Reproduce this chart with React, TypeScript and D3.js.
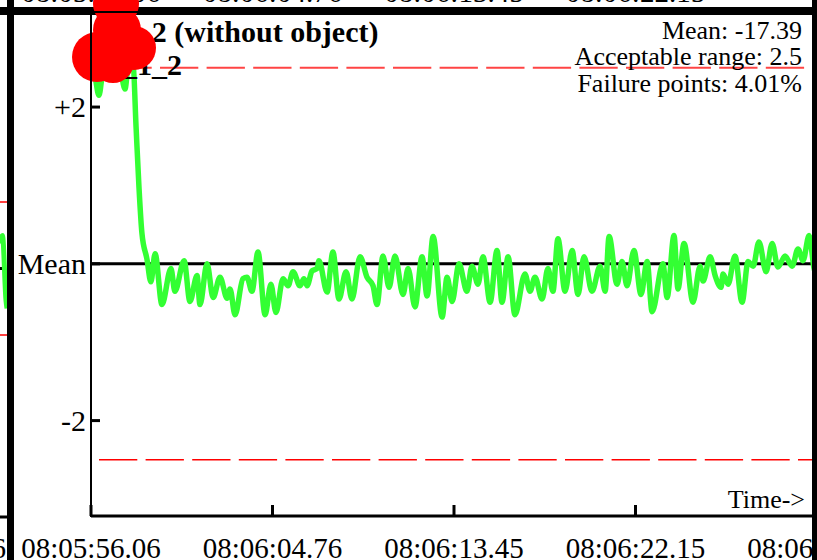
import React, { useEffect, useRef } from 'react';
import * as d3 from 'd3';

const W = 817;
const H = 560;
const FONT = '"Liberation Serif", "Times New Roman", serif';

// x ticks: seconds after 08:05:56.06
const tickTimes = [0, 8.695, 17.39, 26.085, 34.78];
const tickLabels = ['08:05:56.06', '08:06:04.76', '08:06:13.45', '08:06:22.15', '08:06:30.84'];
const yTicks = [2, 0, -2];
const yTickLabels = ['+2', 'Mean', '-2'];
const acceptRange = 2.5;
const statLines = ['Mean: -17.39', 'Acceptable range: 2.5', 'Failure points: 4.01%'];
const titleLines = ['Ch 2 (without object)', 'T_1_2'];

// deviation from the mean, per time (s)
const times = [
    0, 0.19, 0.38, 0.57, 0.91, 1.29, 1.63, 1.82, 2.01, 2.16,
    2.30, 2.44, 2.68, 2.87, 3.07, 3.40, 3.83, 4.02, 4.46, 4.74,
    5.08, 5.22, 5.56, 5.85, 6.18, 6.52, 6.66, 6.90, 7.28, 7.47,
    7.71, 8.00, 8.34, 8.62, 8.86, 9.20, 9.44, 9.68, 10.01, 10.20,
    10.35, 10.59, 10.83, 10.92, 11.31, 11.59, 11.88, 12.22, 12.50, 12.89,
    13.22, 13.51, 13.70, 13.99, 14.28, 14.56, 14.95, 15.19, 15.52, 15.86,
    16.10, 16.39, 16.82, 17.06, 17.30, 17.63, 18.01, 18.25, 18.54, 18.78,
    19.12, 19.45, 19.69, 19.98, 20.31, 20.79, 21.03, 21.27, 21.61, 21.89,
    22.13, 22.37, 22.71, 23.05, 23.33, 23.62, 24.00, 24.39, 24.63, 24.82,
    25.20, 25.44, 25.68, 26.01, 26.35, 26.64, 26.88, 27.40, 27.60, 27.93,
    28.12, 28.41, 28.84, 29.18, 29.32, 29.66, 29.90, 30.18, 30.28, 30.52,
    30.85, 31.19, 31.48, 31.72, 32.00, 32.34, 32.63, 32.91, 33.25, 33.59,
    33.87, 34.11, 34.40, 34.69, 34.78
];
const devs = [
    2.52, 2.39, 2.15, 2.45, 2.58, 2.65, 2.23, 2.62, 2.58, 1.74,
    0.97, 0.39, 0.06, -0.23, 0.13, -0.52, -0.06, -0.35, 0.04, -0.48,
    -0.15, -0.52, 0, -0.43, -0.17, -0.44, -0.32, -0.65, -0.19, -0.17,
    -0.35, 0.15, -0.65, -0.26, -0.62, -0.19, -0.28, -0.10, -0.28, -0.19,
    -0.28, -0.09, -0.06, 0.04, -0.36, 0.15, -0.45, -0.10, -0.45, 0.09,
    -0.17, -0.28, -0.52, 0.10, -0.30, 0.10, -0.39, -0.06, -0.55, 0.09,
    -0.41, 0.35, -0.68, -0.17, -0.48, 0, -0.35, -0.03, -0.26, 0.09,
    -0.49, 0.17, -0.49, 0.09, -0.65, -0.13, -0.35, -0.17, -0.45, -0.06,
    -0.35, 0.32, -0.35, 0.17, -0.39, 0.09, -0.35, -0.03, -0.35, 0.35,
    -0.26, 0.03, -0.28, 0.17, -0.39, 0.03, -0.61, 0, -0.43, 0.36,
    -0.32, 0.26, -0.49, -0.03, -0.22, 0.09, -0.15, -0.30, -0.13, -0.26,
    0.10, -0.49, 0.03, -0.03, 0.28, -0.10, 0.26, -0.04, 0.10, -0.03,
    0.19, 0.04, 0.36, -0.10, 0
];

// right edge of the neighbouring panel, cut off on the left
const prevTimes = [-0.7, -0.45, -0.1, 0];
const prevDevs = [0.94, 1.24, -1.2, -1.5];
const prevLabel = '08:05:47.36';

const App: React.FC = () => {
    const svgRef = useRef<SVGSVGElement>(null);

    useEffect(() => {
        if (!svgRef.current) return;
        const svg = d3.select(svgRef.current);
        svg.selectAll('*').remove();

        const x = d3.scaleLinear().domain([0, 34.78]).range([91, 817]);
        const y = d3.scaleLinear().domain([-3.23, 3.2]).range([517, 13]);

        const defs = svg.append('defs');
        defs.append('clipPath').attr('id', 'plotClip')
            .append('rect').attr('x', 91).attr('y', 13).attr('width', 721).attr('height', 504);
        defs.append('clipPath').attr('id', 'prevClip')
            .append('rect').attr('x', 0).attr('y', 0).attr('width', 7).attr('height', H);

        // labels of the panel above, only their lower edge shows
        svg.append('g').selectAll('text')
            .data(tickTimes.slice(0, 4))
            .join('text')
            .attr('x', d => x(d))
            .attr('y', 2)
            .attr('text-anchor', 'middle')
            .style('font-family', FONT)
            .style('font-size', '29px')
            .text((d, i) => tickLabels[i]);

        // neighbouring panel on the left
        const px = d3.scaleLinear().domain([-0.7, 0]).range([0, 7]);
        const py = d3.scaleLinear().domain([-2.5, 2.5]).range([335, 202]);
        const prev = svg.append('g').attr('clip-path', 'url(#prevClip)');
        [acceptRange, -acceptRange].forEach(v => {
            prev.append('line')
                .attr('x1', 0).attr('x2', 7)
                .attr('y1', py(v)).attr('y2', py(v))
                .attr('stroke', 'red').attr('stroke-width', 1.5);
        });
        prev.append('line')
            .attr('x1', 0).attr('x2', 3)
            .attr('y1', py(0)).attr('y2', py(0))
            .attr('stroke', '#000').attr('stroke-width', 3);
        prev.append('path')
            .datum(prevDevs)
            .attr('fill', 'none')
            .attr('stroke', '#33ff33')
            .attr('stroke-width', 5)
            .attr('d', d3.line<number>()
                .x((d, i) => px(prevTimes[i]))
                .y(d => py(d))
                .curve(d3.curveMonotoneX));
        prev.append('line')
            .attr('x1', 0).attr('x2', 7)
            .attr('y1', 517).attr('y2', 517)
            .attr('stroke', '#000').attr('stroke-width', 3);
        svg.append('text')
            .attr('x', 6).attr('y', 558)
            .attr('text-anchor', 'end')
            .style('font-family', FONT)
            .style('font-size', '29px')
            .text(prevLabel);

        // mean line
        svg.append('line')
            .attr('x1', x(0)).attr('x2', x(34.78))
            .attr('y1', y(0)).attr('y2', y(0))
            .attr('stroke', '#000')
            .attr('stroke-width', 3);

        // acceptable range
        svg.append('line')
            .attr('x1', x(0)).attr('x2', x(34.78))
            .attr('y1', y(acceptRange)).attr('y2', y(acceptRange))
            .attr('stroke', '#ff4444')
            .attr('stroke-width', 2)
            .attr('stroke-dasharray', '38.3,8.3')
            .attr('stroke-dashoffset', 24.2);
        svg.append('line')
            .attr('x1', x(0)).attr('x2', x(34.78))
            .attr('y1', y(-acceptRange)).attr('y2', y(-acceptRange))
            .attr('stroke', 'red')
            .attr('stroke-width', 1.5)
            .attr('stroke-dasharray', '38.3,8.3')
            .attr('stroke-dashoffset', 38.6);

        // signal
        svg.append('path')
            .datum(devs)
            .attr('clip-path', 'url(#plotClip)')
            .attr('fill', 'none')
            .attr('stroke', '#33ff33')
            .attr('stroke-width', 5.5)
            .attr('stroke-linejoin', 'round')
            .attr('d', d3.line<number>()
                .x((d, i) => x(times[i]))
                .y(d => y(d))
                .curve(d3.curveMonotoneX));

        // title
        svg.append('text')
            .attr('x', 106).attr('y', 42)
            .style('font-family', FONT)
            .style('font-size', '30px')
            .style('font-weight', 'bold')
            .text(titleLines[0]);
        svg.append('text')
            .attr('x', 102).attr('y', 75)
            .style('font-family', FONT)
            .style('font-size', '30px')
            .style('font-weight', 'bold')
            .text(titleLines[1]);

        // stats
        svg.append('g').selectAll('text')
            .data(statLines)
            .join('text')
            .attr('x', 802)
            .attr('y', (d, i) => 39 + i * 26.3)
            .attr('text-anchor', 'end')
            .style('font-family', FONT)
            .style('font-size', '26px')
            .text(d => d);

        svg.append('text')
            .attr('x', 805).attr('y', 508)
            .attr('text-anchor', 'end')
            .style('font-family', FONT)
            .style('font-size', '26px')
            .text('Time->');

        // thick frame line at the top
        svg.append('rect')
            .attr('x', 0).attr('y', 7).attr('width', W).attr('height', 8)
            .attr('fill', '#000');

        // red blot covering the start of the title
        const blot = svg.append('g').attr('fill', 'red');
        [[116, 4, 23], [117, 30, 24], [97, 57, 25], [134, 48, 22], [113, 62, 21]].forEach(([cx, cy, r]) => {
            blot.append('circle').attr('cx', cx).attr('cy', cy).attr('r', r);
        });

        svg.append('line')
            .attr('x1', 91).attr('x2', W)
            .attr('y1', 12).attr('y2', 12)
            .attr('stroke', '#000').attr('stroke-width', 2);

        // axes
        svg.append('line')
            .attr('x1', 91).attr('x2', 91)
            .attr('y1', 12).attr('y2', 517)
            .attr('stroke', '#000').attr('stroke-width', 2);
        svg.append('line')
            .attr('x1', 91).attr('x2', W)
            .attr('y1', 516).attr('y2', 516)
            .attr('stroke', '#000').attr('stroke-width', 3);

        svg.append('g').selectAll('line')
            .data(tickTimes)
            .join('line')
            .attr('x1', d => x(d)).attr('x2', d => x(d))
            .attr('y1', 505).attr('y2', 516)
            .attr('stroke', '#000').attr('stroke-width', 3);
        svg.append('g').selectAll('text')
            .data(tickTimes)
            .join('text')
            .attr('x', d => x(d))
            .attr('y', 558)
            .attr('text-anchor', 'middle')
            .style('font-family', FONT)
            .style('font-size', '29px')
            .text((d, i) => tickLabels[i]);

        svg.append('g').selectAll('line')
            .data(yTicks)
            .join('line')
            .attr('x1', 91).attr('x2', 100)
            .attr('y1', d => y(d)).attr('y2', d => y(d))
            .attr('stroke', '#000').attr('stroke-width', 3);
        svg.append('g').selectAll('text')
            .data(yTicks)
            .join('text')
            .attr('x', 86)
            .attr('y', d => y(d))
            .attr('dy', '0.34em')
            .attr('text-anchor', 'end')
            .style('font-family', FONT)
            .style('font-size', '30px')
            .text((d, i) => yTickLabels[i]);

        // side frame lines
        svg.append('rect')
            .attr('x', 7).attr('y', 0).attr('width', 7).attr('height', H)
            .attr('fill', '#000');
        svg.append('rect')
            .attr('x', 812).attr('y', 0).attr('width', 5).attr('height', H)
            .attr('fill', '#000');
    }, []);

    return (
        <svg
            ref={svgRef}
            width={W}
            height={H}
            style={{ position: 'absolute', left: 0, top: 0, background: '#fff' }}
        />
    );
};

export default App;
